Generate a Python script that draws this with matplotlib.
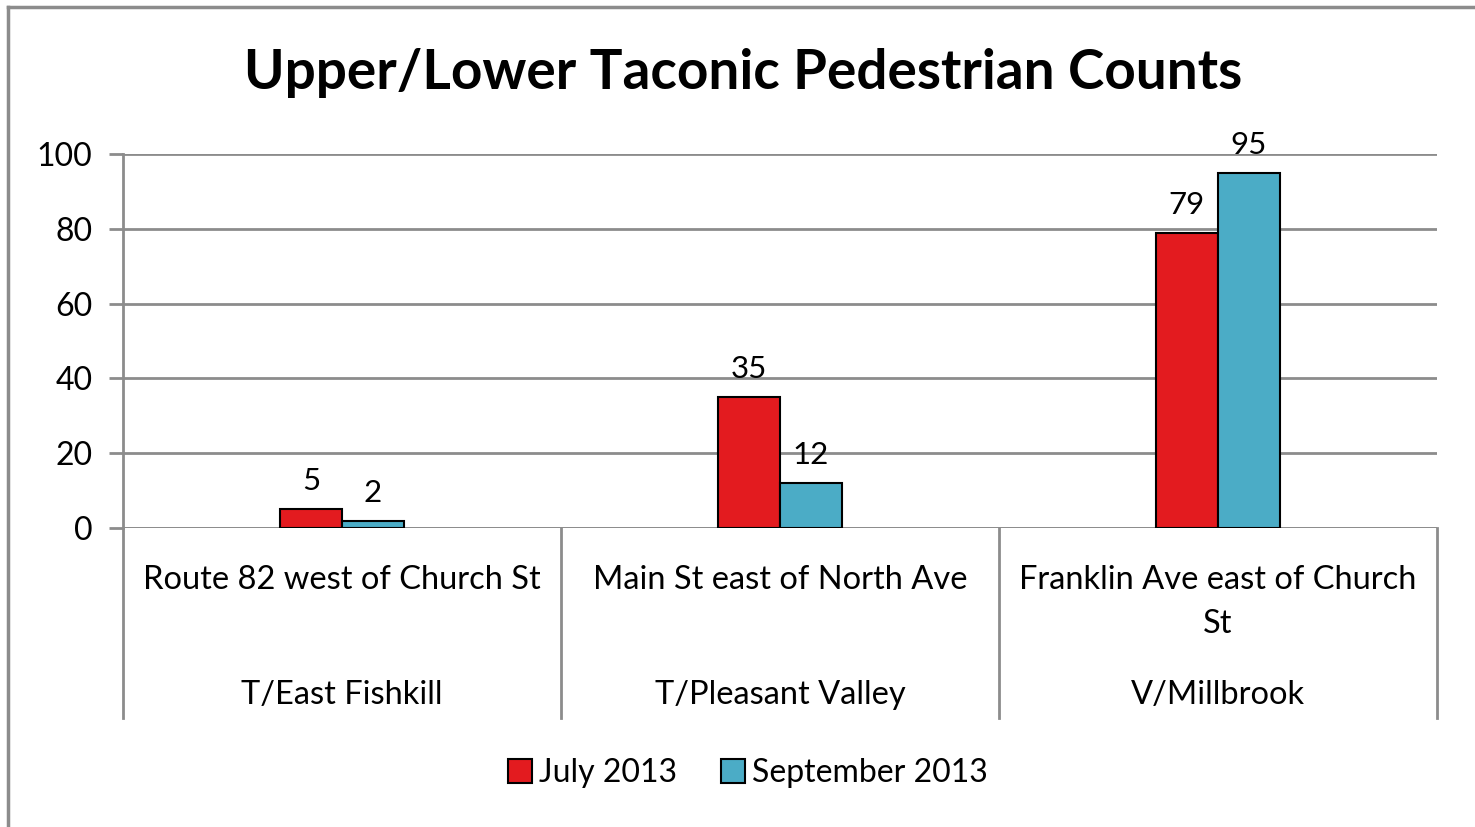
import matplotlib
matplotlib.use("Agg")
import matplotlib.pyplot as plt
import matplotlib.transforms as mtransforms
from matplotlib.lines import Line2D
import numpy as np

plt.rcParams['font.family'] = ['Lato', 'DejaVu Sans']

locations = ["Route 82 west of Church St", "Main St east of North Ave", "Franklin Ave east of Church\nSt"]
towns = ["T/East Fishkill", "T/Pleasant Valley", "V/Millbrook"]
series_names = ["July 2013", "September 2013"]
july = [5, 35, 79]
september = [2, 12, 95]
yticks = [0, 20, 40, 60, 80, 100]

red = "#E31B1F"
blue = "#4BACC6"
grid = "#8C8C8C"

W, H = 1475, 827
fig = plt.figure(figsize=(W / 100, H / 100), dpi=100)
ax = fig.add_axes([123 / W, 299 / H, (1437 - 123) / W, (528 - 154) / H])

x = np.arange(len(locations))
bw = 0.1416
b1 = ax.bar(x - bw / 2, july, bw, color=red, edgecolor="black", linewidth=1.5, label=series_names[0], zorder=3)
b2 = ax.bar(x + bw / 2, september, bw, color=blue, edgecolor="black", linewidth=1.5, label=series_names[1], zorder=3)
for bars, vals in ((b1, july), (b2, september)):
    for r, v in zip(bars, vals):
        ax.annotate(str(v), (r.get_x() + r.get_width() / 2, v), xytext=(0, 10), textcoords="offset points",
                    ha="center", va="bottom", fontsize=22.5)

ax.set_xlim(-0.5, len(locations) - 0.5)
ax.set_ylim(0, 100)
ax.set_yticks(yticks)
ax.tick_params(axis="y", labelsize=23, length=10, width=2, color=grid, pad=12)
ax.set_xticks([])
ax.grid(axis="y", color=grid, linewidth=2, zorder=0)
for s in ("top", "right", "bottom"):
    ax.spines[s].set_visible(False)
ax.spines["left"].set_color(grid)
ax.spines["left"].set_linewidth(2)
ax.axhline(0, color=grid, linewidth=2, zorder=2)

# two-level category axis
tr = mtransforms.blended_transform_factory(ax.transData, ax.transAxes)
ext = -(718 - 528) / (528 - 154)
for xs in np.arange(len(locations) + 1) - 0.5:
    ax.add_line(Line2D([xs, xs], [0, ext], transform=tr, color=grid, linewidth=2, clip_on=False))
for i in range(len(locations)):
    ax.text(x[i], -(565 - 528) / (528 - 154), locations[i], transform=tr, ha="center", va="top",
            fontsize=23.5, linespacing=1.6)
    ax.text(x[i], -(695 - 528) / (528 - 154), towns[i], transform=tr, ha="center", va="center", fontsize=23.5)

fig.text(743 / W, 1 - 73 / H, "Upper/Lower Taconic Pedestrian Counts", ha="center", va="center",
         fontsize=39.5, fontweight="bold")

fig.legend(handles=[b1, b2], labels=series_names, loc="center", bbox_to_anchor=(748 / W, 1 - 773 / H),
           ncol=2, frameon=False, fontsize=23, handlelength=0.75, handleheight=0.75, handletextpad=0.2,
           columnspacing=1.4)

# outer chart border (top and left visible)
fig.add_artist(Line2D([8 / W, 1.0], [1 - 7 / H, 1 - 7 / H], color=grid, linewidth=2.5))
fig.add_artist(Line2D([8 / W, 8 / W], [0.0, 1 - 7 / H], color=grid, linewidth=2.5))

fig.savefig("out.png", dpi=100)
